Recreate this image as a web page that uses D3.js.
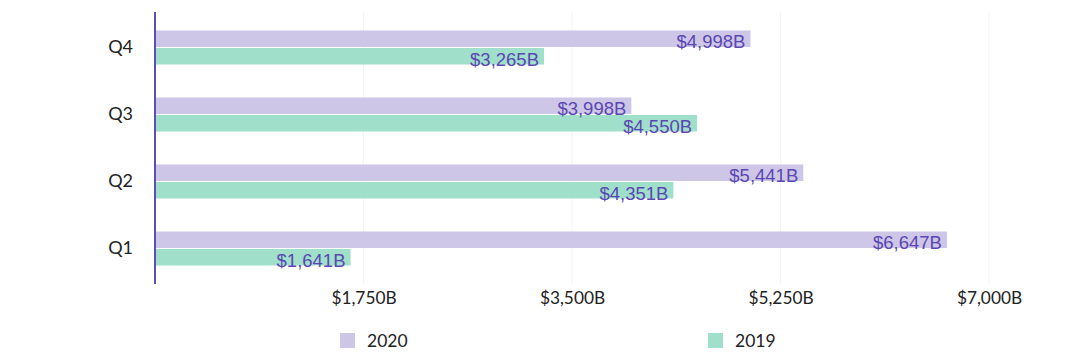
<!DOCTYPE html>
<html><head><meta charset="utf-8">
<script src="https://cdn.jsdelivr.net/npm/d3@7"></script>
<style>body{margin:0;background:#fff}svg{display:block}</style>
</head><body>
<svg id="c" width="1080" height="357"></svg>
<script>
const categories = ["Q4","Q3","Q2","Q1"];
const series = ["2020","2019"];
const values2020 = [4998, 3998, 5441, 6647];
const values2019 = [3265, 4550, 4351, 1641];
const tickValues = [1750, 3500, 5250, 7000];
const colors = {"2020":"#cdc6e7","2019":"#a0dfca"};

const svg = d3.select("#c");
const x = d3.scaleLinear().domain([0,7000]).range([155,989]);
const y = d3.scaleBand().domain(categories).range([14,282]);
const inner = d3.scaleBand().domain(series).range([0,34]).paddingInner(0.06);
const fmt = v => "$" + d3.format(",")(v) + "B";

// grid
svg.append("g").selectAll("line").data(tickValues).join("line")
  .attr("x1",d=>x(d)).attr("x2",d=>x(d)).attr("y1",12).attr("y2",284)
  .attr("stroke","#f4f4f4").attr("stroke-width",1);

const rows = categories.map((c,i)=>({c, v:{"2020":values2020[i],"2019":values2019[i]}}));
const g = svg.append("g");
rows.forEach(r=>{
  const y0 = y(r.c) + (y.bandwidth()-34)/2;
  series.forEach(s=>{
    const by = y0 + inner(s);
    g.append("rect").attr("x",x(0)).attr("y",by).attr("width",x(r.v[s])-x(0)).attr("height",inner.bandwidth())
      .attr("fill",colors[s]);
  });
  series.forEach(s=>{
    const by = y0 + inner(s);
    g.append("text").attr("x",x(r.v[s])-5).attr("y",by+inner.bandwidth()+1)
      .attr("text-anchor","end").attr("font-family","Liberation Sans, Arial, sans-serif")
      .attr("font-size",18.5).attr("fill","#5a47b3").text(fmt(r.v[s]));
  });
});

// y axis
const ya = svg.append("g").attr("transform","translate(155,0)")
  .call(d3.axisLeft(y).tickSize(0).tickPadding(22));
ya.select(".domain").attr("stroke","#5b4fb0").attr("stroke-width",2).attr("d","M0,12V284");
ya.selectAll("text").attr("font-family","Lato, sans-serif").attr("font-size",18).attr("fill","#222").attr("dy","0.28em");

// x axis
const xa = svg.append("g").attr("transform","translate(0,284)")
  .call(d3.axisBottom(x).tickValues(tickValues).tickFormat(fmt).tickSize(0).tickPadding(6));
xa.select(".domain").remove();
xa.selectAll("text").attr("font-family","Lato, sans-serif").attr("font-size",17.3).attr("fill","#222").attr("dy","0.8em");

// legend
const legX = {"2020":340,"2019":708};
series.forEach(s=>{
  svg.append("rect").attr("x",legX[s]).attr("y",333).attr("width",15).attr("height",15).attr("fill",colors[s]);
  svg.append("text").attr("x",legX[s]+27).attr("y",347).attr("font-family","Lato, sans-serif")
    .attr("font-size",17.5).attr("fill","#222").text(s);
});
</script>
</body></html>
